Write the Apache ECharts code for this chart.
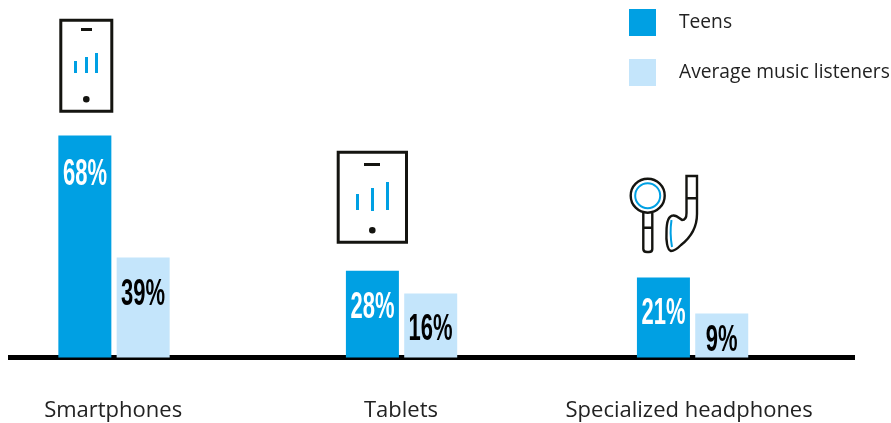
<!DOCTYPE html>
<html>
<head>
<meta charset="utf-8">
<style>
  html, body { margin: 0; padding: 0; background: #fff; }
  #chart { width: 891px; height: 423px; }
</style>
</head>
<body>
<div id="chart"></div>
<script src="https://cdn.jsdelivr.net/npm/echarts@6/dist/echarts.min.js"></script>
<script>
const categories = ['Smartphones', 'Tablets', 'Specialized headphones']
const seriesNames = ['Teens', 'Average music listeners']

// printed percentages
const teensLabels = [68, 28, 21]
const averageLabels = [39, 16, 9]

// drawn bar heights: the picture's bars are not to scale with the printed numbers
const teensHeights = [68, 26.6, 24.5]
const averageHeights = [30.6, 19.6, 13.5]

const BLUE = '#00a0e3'
const LIGHT = '#c4e5fb'
const INK = '#141410'

// the three groups are not quite evenly spaced in the picture
const groupSlots = [0, 0.995, 2.002]
const labelSlots = [-0.003, 0.993, 1.99]

// graphic has no plain path type, so register the headphone outlines as shapes
echarts.graphic.registerShape('phoneStem', echarts.graphic.extendPath(
  'M643.3 213 L643.3 249 Q643.3 252 647 252 L649 252 Q652.3 252 652.3 249 L652.3 213 M643.3 227.7 L652.3 227.7'))
echarts.graphic.registerShape('phoneBud', echarts.graphic.extendPath(
  'M686.5 176 L697 176 L697 214 C697 228 690 238 681 245 C677 249 673 251 671 251 C667 250 666 240 666.5 232 C666.5 222 668 216 673 215.5 C677 215 680 219 682 220 C685 220 686.5 217 686.5 213 Z M686.5 198.3 L697 198.3'))
echarts.graphic.registerShape('phoneBudEdge', echarts.graphic.extendPath(
  'M671.5 220 Q669.5 233 672 247'))

const chart = echarts.init(document.getElementById('chart'))

const toPoints = (values) => values.map((v, i) => [groupSlots[i], v])

// no condensed font is installed, so the percentages are squeezed with scaleX
const percentLabels = (labels, heights, offset, color) => ({
  type: 'custom',
  silent: true,
  z: 5,
  data: toPoints(heights),
  renderItem: (params, api) => {
    const pt = api.coord([api.value(0), api.value(1)])
    const barPx = api.size([0, api.value(1)])[1]
    const drop = barPx > 150 ? 40 : Math.min(37, barPx / 2 + 6)
    return {
      type: 'text',
      x: pt[0] + offset,
      y: pt[1] + drop,
      scaleX: 0.61,
      style: {
        text: labels[params.dataIndex] + '%',
        textAlign: 'center',
        textVerticalAlign: 'middle',
        fill: color,
        font: 'bold 36px "Liberation Sans"'
      }
    }
  }
})

const signalBars = (bars) => bars.map(b => ({
  type: 'rect',
  shape: { x: b[0], y: b[1], width: 3, height: b[2] },
  style: { fill: BLUE }
}))

const deviceIcon = (o) => [
  { type: 'rect', shape: { x: o.x, y: o.y, width: o.w, height: o.h }, style: { fill: '#fff', stroke: INK, lineWidth: 3 } },
  { type: 'rect', shape: { x: o.dash[0], y: o.dash[1], width: o.dash[2], height: 3 }, style: { fill: INK } },
  { type: 'circle', shape: { cx: o.dot[0], cy: o.dot[1], r: 3.3 }, style: { fill: INK } },
  ...signalBars(o.bars)
]

const headphoneStroke = { fill: 'none', stroke: INK, lineWidth: 2.4 }

const headphoneIcon = [
  { type: 'circle', shape: { cx: 647.7, cy: 195.7, r: 17 }, style: headphoneStroke },
  { type: 'circle', shape: { cx: 647.7, cy: 195.7, r: 12.5 }, style: { fill: 'none', stroke: BLUE, lineWidth: 2 } },
  { type: 'phoneStem', style: headphoneStroke },
  { type: 'phoneBud', style: headphoneStroke },
  { type: 'phoneBudEdge', style: { fill: 'none', stroke: BLUE, lineWidth: 2 } }
]

const option = {
  animation: false,
  backgroundColor: '#fff',
  legend: {
    orient: 'vertical',
    left: 624,
    top: 4,
    itemWidth: 27,
    itemHeight: 27,
    itemGap: 23,
    icon: 'rect',
    data: seriesNames,
    textStyle: {
      color: '#222',
      fontFamily: '"Open Sans"',
      fontSize: 19.2,
      padding: [6, 0, 0, 18]
    }
  },
  grid: { left: 8, right: 36, top: 129, bottom: 65.5 },
  xAxis: {
    type: 'value',
    min: -0.3668,
    max: 2.564,
    splitLine: { show: false },
    axisTick: { show: false },
    axisLine: { show: true, onZero: true, lineStyle: { color: '#000', width: 5, cap: 'butt' } },
    axisLabel: {
      customValues: labelSlots,
      margin: 42,
      color: '#222',
      fontFamily: '"Open Sans"',
      fontSize: 22,
      formatter: (v) => categories[labelSlots.indexOf(v)]
    }
  },
  yAxis: { type: 'value', min: 0, max: 70, show: false },
  graphic: [
    ...deviceIcon({
      x: 60.8, y: 20.2, w: 51, h: 91,
      dash: [81, 28, 11],
      dot: [86.3, 99.3],
      bars: [[74, 61, 12], [85, 57, 16], [95, 53, 20]]
    }),
    ...deviceIcon({
      x: 338.2, y: 152.2, w: 68.3, h: 90,
      dash: [364, 163, 16],
      dot: [372.3, 230.3],
      bars: [[356, 194, 16], [371, 188, 23], [386, 182, 28]]
    }),
    ...headphoneIcon
  ],
  series: [
    {
      name: seriesNames[0],
      type: 'bar',
      barWidth: 53,
      barGap: '10%',
      itemStyle: { color: BLUE },
      data: toPoints(teensHeights)
    },
    {
      name: seriesNames[1],
      type: 'bar',
      barWidth: 53,
      itemStyle: { color: LIGHT },
      data: toPoints(averageHeights)
    },
    percentLabels(teensLabels, teensHeights, -29, '#fff'),
    percentLabels(averageLabels, averageHeights, 29, '#000')
  ]
}

chart.setOption(option)
</script>
</body>
</html>
